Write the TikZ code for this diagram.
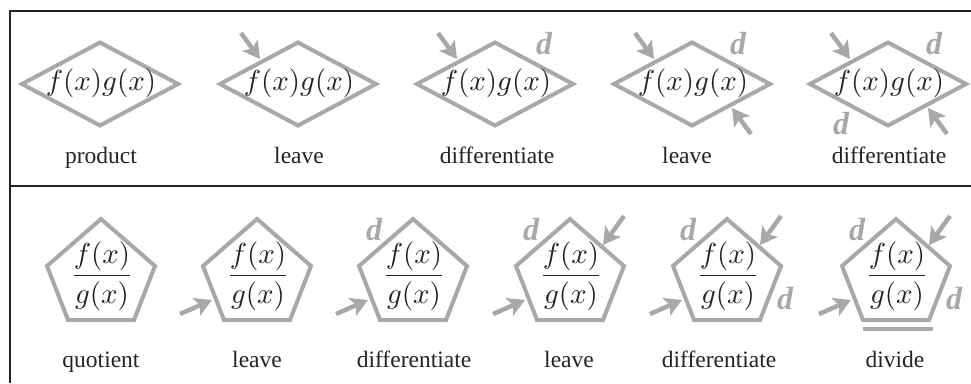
\RequirePackage{fix-cm}
\documentclass[tikz,border=0pt]{standalone}
\usepackage[no-math]{fontspec}
\setmainfont{Liberation Serif}
\usetikzlibrary{arrows.meta}
\definecolor{shapegray}{RGB}{168,168,168}
\definecolor{ink}{RGB}{35,35,35}
\tikzset{
  shapeline/.style={draw=shapegray, line width=4pt, line join=miter},
  garrow/.style={draw=shapegray, line width=4.5pt,
    -{Stealth[length=17pt,width=19pt,inset=4pt,fill=shapegray]}},
  mathtxt/.style={inner sep=0pt, text=ink},
  lbl/.style={inner sep=0pt, anchor=base, font=\fontsize{23.5}{28}\selectfont, text=ink},
  dlbl/.style={inner sep=0pt, font=\fontsize{32}{38}\selectfont\bfseries\itshape, text=shapegray},
  framel/.style={draw=ink, line width=2pt},
}
\newcommand{\bigmath}[1]{\scalebox{2.9}{$#1$}}
\begin{document}
\begin{tikzpicture}[x=1pt,y=-1pt]
\useasboundingbox (0,0) rectangle (971,383);
% frame
\coordinate (fr1) at (971,11);
\coordinate (fr2) at (10,11);
\coordinate (fr3) at (10,383);
\coordinate (dv1) at (10,186);
\coordinate (dv2) at (971,186);
\draw[framel] (fr1) -- (fr2) -- (fr3);
\draw[framel] (dv1) -- (dv2);

% ---------- top row: products ----------
\foreach \i/\cx in {1/100,2/298,3/495,4/692,5/888} {
  \draw[shapeline] (\cx-78,84) -- (\cx,42.5) -- (\cx+78,84) -- (\cx,125.5) -- cycle;
  \node[mathtxt] (p\i) at (\cx+1,83) {\bigmath{f(x)g(x)}};
}
% upper-left arrows
\foreach \i/\cx in {2/298,3/495,4/692,5/888} {
  \coordinate (ult\i) at (\cx-57,33);
  \coordinate (ulh\i) at (\cx-38,59);
  \draw[garrow] (ult\i) -- (ulh\i);
}
% lower-right arrows
\foreach \i/\cx in {4/692,5/888} {
  \coordinate (lrt\i) at (\cx+59,134);
  \coordinate (lrh\i) at (\cx+40,108);
  \draw[garrow] (lrt\i) -- (lrh\i);
}
% d labels top row
\node[dlbl] (d3a) at (544,44) {d};
\node[dlbl] (d4a) at (738,44) {d};
\node[dlbl] (d5a) at (934,44) {d};
\node[dlbl] (d5b) at (841,124) {d};
% labels top row
\node[lbl] (l1) at (101,163) {product};
\node[lbl] (l2) at (299,163) {leave};
\node[lbl] (l3) at (497,163) {differentiate};
\node[lbl] (l4) at (687,163) {leave};
\node[lbl] (l5) at (889,163) {differentiate};

% ---------- bottom row: quotients ----------
\foreach \i/\cx in {1/101,2/257,3/413,4/570,5/727,6/896} {
  \draw[shapeline] (\cx,219) -- (\cx+54,266) -- (\cx+33,320) -- (\cx-33,320) -- (\cx-54,266) -- cycle;
  \node[mathtxt] (q\i) at (\cx+1,276) {\bigmath{\displaystyle\frac{f(x)}{g(x)}}};
}
% left arrows
\foreach \i/\cx in {2/257,3/413,4/570,5/727,6/896} {
  \coordinate (lt\i) at (\cx-77,314);
  \coordinate (lh\i) at (\cx-45,300);
  \draw[garrow] (lt\i) -- (lh\i);
}
% upper-right arrows
\foreach \i/\cx in {4/570,5/727,6/896} {
  \coordinate (urt\i) at (\cx+54,216);
  \coordinate (urh\i) at (\cx+33,245);
  \draw[garrow] (urt\i) -- (urh\i);
}
% d labels bottom row
\foreach \i/\cx in {3/413,4/570,5/727,6/896} {
  \node[dlbl] (dq\i) at (\cx-39,230) {d};
}
\foreach \i/\cx in {5/727,6/896} {
  \node[dlbl] (dr\i) at (\cx+58,299) {d};
}
% divide bar
\coordinate (db1) at (863,329);
\coordinate (db2) at (933,329);
\draw[draw=shapegray, line width=3.5pt] (db1) -- (db2);
% labels bottom row
\node[lbl] (m1) at (101,367) {quotient};
\node[lbl] (m2) at (257,367) {leave};
\node[lbl] (m3) at (414,367) {differentiate};
\node[lbl] (m4) at (569,367) {leave};
\node[lbl] (m5) at (719,367) {differentiate};
\node[lbl] (m6) at (895,367) {divide};
\end{tikzpicture}
\end{document}
